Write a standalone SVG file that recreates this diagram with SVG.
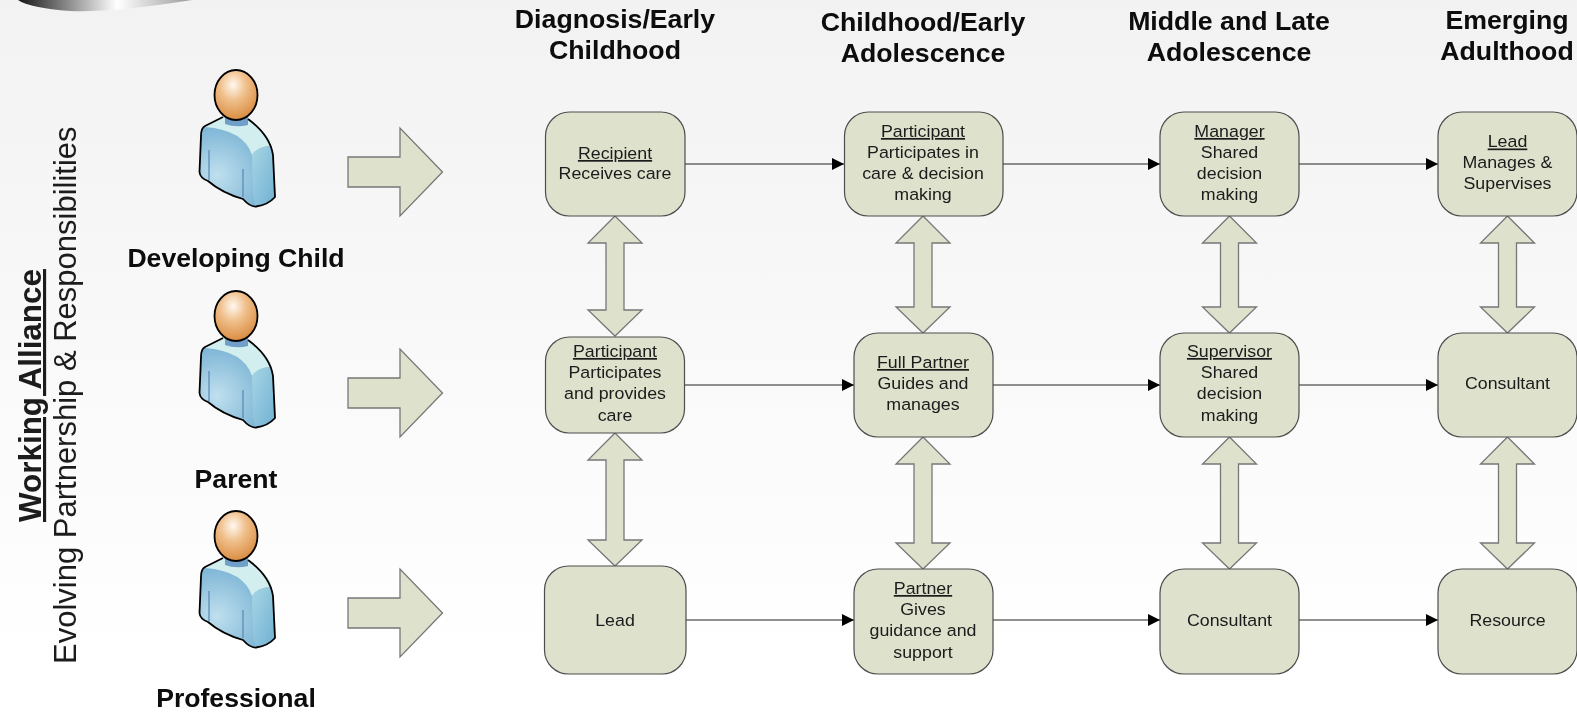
<svg xmlns="http://www.w3.org/2000/svg" width="1577" height="713" viewBox="0 0 1577 713">
<style>
text{font-family:"Liberation Sans",Arial,sans-serif;fill:#1a1a1a}
.n{font-size:17.200px;text-anchor:middle;transform-box:fill-box;transform-origin:center;transform:scaleX(1.035)}
.h{font-size:26px;font-weight:bold;text-anchor:middle;fill:#0a0a0a;transform-box:fill-box;transform-origin:center;transform:scaleX(1.027)}
.l{font-size:26px;font-weight:bold;text-anchor:middle;fill:#0a0a0a;transform-box:fill-box;transform-origin:center;transform:scaleX(1.023)}
.u{text-decoration:underline}
.box{fill:#dee2cd;stroke:#4d4d4d;stroke-width:1.2}
.blk{fill:#dee2cd;stroke:#777;stroke-width:1.3}
.c{stroke:#222;stroke-width:1.2;fill:none;marker-end:url(#ah)}
</style>
<defs>
<filter id="soft" x="0" y="0" width="1" height="1"><feGaussianBlur stdDeviation="0.4"/></filter>
<linearGradient id="bg" x1="0" y1="0" x2="0" y2="1"><stop offset="0" stop-color="#f2f2f2"/><stop offset="0.92" stop-color="#ffffff"/><stop offset="1" stop-color="#ffffff"/></linearGradient>
<linearGradient id="blob" x1="0" y1="0" x2="1" y2="0"><stop offset="0" stop-color="#161616"/><stop offset="0.57" stop-color="#ffffff"/><stop offset="1" stop-color="#9a9a9a"/></linearGradient>
<radialGradient id="head" cx="0.43" cy="0.3" r="0.72"><stop offset="0" stop-color="#fff8f0"/><stop offset="0.42" stop-color="#f0c08c"/><stop offset="1" stop-color="#d98a3e"/></radialGradient>
<radialGradient id="shirt" gradientUnits="userSpaceOnUse" cx="217" cy="175" r="48"><stop offset="0" stop-color="#bfe0ee"/><stop offset="1" stop-color="#7fb6d6"/></radialGradient>
<linearGradient id="sleeve" x1="0" y1="0" x2="1" y2="1"><stop offset="0" stop-color="#a8d6e4"/><stop offset="1" stop-color="#70b0d4"/></linearGradient>
<marker id="ah" markerUnits="userSpaceOnUse" markerWidth="12" markerHeight="12" refX="12" refY="6" orient="auto"><path d="M0 0L12 6L0 12Z" fill="#000"/></marker>
<g id="person">
<path d="M223 117L205 126Q201 128 201 136L199.5 172Q200 178 208 181Q222 193 243 199Q250 207 256 206.5Q268 205 275 197L273 155Q270 135 248 119Z" fill="url(#shirt)"/>
<path d="M205 127L223 117L248 119Q270 135 272 146Q258 146 252 155Q244 130 205 127Z" fill="#d2eeee"/>
<path d="M252 155Q258 146 272 146L275 197Q268 205 256 206.5L253 195Z" fill="url(#sleeve)"/>
<path d="M225 115L225 124Q236 128 248 125L248 115Z" fill="#6f9fc9"/>
<path d="M209 150L209 180M243 169L243 197" stroke="#5d8cb4" stroke-width="1.3" fill="none"/>
<path d="M223 117L205 126Q201 128 201 136L199.5 172Q200 178 208 181Q222 193 243 199Q250 207 256 206.5Q268 205 275 197L273 155Q270 135 248 119" fill="none" stroke="#000" stroke-width="1.8"/>
<ellipse cx="236" cy="95" rx="21.5" ry="25" fill="url(#head)" stroke="#000" stroke-width="1.8"/>
</g>
<path id="blockarrow" class="blk" d="M348 157L400 157L400 128L442.5 172L400 216L400 187L348 187Z"/>
</defs>
<g filter="url(#soft)">
<rect width="1577" height="713" fill="url(#bg)"/>
<path d="M18 0Q30 8 70 11Q110 13 192 0Z" fill="url(#blob)"/>
<text transform="translate(41,522) rotate(-90)" style="font-size:31.400px;font-weight:bold;text-decoration:underline">Working Alliance</text>
<text transform="translate(76,664) rotate(-90)" style="font-size:31px">Evolving Partnership &amp; Responsibilities</text>
<g id="headers">
<text class="h" x="615" y="28">Diagnosis/Early</text><text class="h" x="615" y="59">Childhood</text>
<text class="h" x="923" y="31">Childhood/Early</text><text class="h" x="923" y="62">Adolescence</text>
<text class="h" x="1229" y="30">Middle and Late</text><text class="h" x="1229" y="61">Adolescence</text>
<text class="h" x="1507" y="29">Emerging</text><text class="h" x="1507" y="60.5">Adulthood</text>
</g>
<g id="person-child"><use href="#person"/><text class="l" x="236" y="267">Developing Child</text></g>
<g id="person-parent"><use href="#person" y="221"/><text class="l" x="236" y="488">Parent</text></g>
<g id="person-professional"><use href="#person" y="441"/><text class="l" x="236" y="707">Professional</text></g>
<g id="block-arrows"><use href="#blockarrow"/><use href="#blockarrow" y="221"/><use href="#blockarrow" y="441"/></g>
<g id="connectors">
<path class="c" d="M685 164H844"/><path class="c" d="M1003 164H1160"/><path class="c" d="M1299 164H1438"/>
<path class="c" d="M684 385H854"/><path class="c" d="M993 385H1160"/><path class="c" d="M1299 385H1438"/>
<path class="c" d="M686 620H854"/><path class="c" d="M993 620H1160"/><path class="c" d="M1299 620H1438"/>
</g>
<g id="double-arrows">
<path class="blk" d="M615 216L642 243H624V310H642L615 336L588 310H606V243H588Z"/>
<path class="blk" d="M615 433L642 460H624V540H642L615 566L588 540H606V460H588Z"/>
<path class="blk" d="M923 216L950 243H932V307H950L923 333L896 307H914V243H896Z"/>
<path class="blk" d="M923 437L950 464H932V543H950L923 569L896 543H914V464H896Z"/>
<path class="blk" d="M1229.500 216L1256.500 243H1238.500V307H1256.500L1229.500 333L1202.500 307H1220.500V243H1202.500Z"/>
<path class="blk" d="M1229.500 437L1256.500 464H1238.500V543H1256.500L1229.500 569L1202.500 543H1220.500V464H1202.500Z"/>
<path class="blk" d="M1507.500 216L1534.500 243H1516.500V307H1534.500L1507.500 333L1480.500 307H1498.500V243H1480.500Z"/>
<path class="blk" d="M1507.500 437L1534.500 464H1516.500V543H1534.500L1507.500 569L1480.500 543H1498.500V464H1480.500Z"/>
</g>
<g id="n-recipient"><rect class="box" x="545.500" y="112" width="139.500" height="104" rx="24"/><text class="n u" x="615" y="159">Recipient</text><text class="n" x="615" y="179.500">Receives care</text></g>
<g id="n-participant1"><rect class="box" x="844.500" y="112" width="158.500" height="104" rx="24"/><text class="n u" x="923" y="137">Participant</text><text class="n" x="923" y="158">Participates in</text><text class="n" x="923" y="179">care &amp; decision</text><text class="n" x="923" y="200">making</text></g>
<g id="n-manager"><rect class="box" x="1160" y="112" width="139" height="104" rx="24"/><text class="n u" x="1229.500" y="137">Manager</text><text class="n" x="1229.500" y="158">Shared</text><text class="n" x="1229.500" y="179">decision</text><text class="n" x="1229.500" y="200">making</text></g>
<g id="n-lead1"><rect class="box" x="1438" y="112" width="139" height="104" rx="24"/><text class="n u" x="1507.500" y="147.500">Lead</text><text class="n" x="1507.500" y="168.500">Manages &amp;</text><text class="n" x="1507.500" y="189.500">Supervises</text></g>
<g id="n-participant2"><rect class="box" x="545.500" y="337" width="139" height="96" rx="24"/><text class="n u" x="615" y="357">Participant</text><text class="n" x="615" y="378">Participates</text><text class="n" x="615" y="399.500">and provides</text><text class="n" x="615" y="421">care</text></g>
<g id="n-fullpartner"><rect class="box" x="854" y="333" width="139" height="104" rx="24"/><text class="n u" x="923" y="368">Full Partner</text><text class="n" x="923" y="389">Guides and</text><text class="n" x="923" y="410">manages</text></g>
<g id="n-supervisor"><rect class="box" x="1160" y="333" width="139" height="104" rx="24"/><text class="n u" x="1229.500" y="357">Supervisor</text><text class="n" x="1229.500" y="378">Shared</text><text class="n" x="1229.500" y="399.500">decision</text><text class="n" x="1229.500" y="421">making</text></g>
<g id="n-consultant1"><rect class="box" x="1438" y="333" width="139" height="104" rx="24"/><text class="n" x="1507.500" y="389">Consultant</text></g>
<g id="n-lead2"><rect class="box" x="544.500" y="566" width="141.500" height="108" rx="24"/><text class="n" x="615" y="626">Lead</text></g>
<g id="n-partner"><rect class="box" x="854" y="569" width="139" height="105" rx="24"/><text class="n u" x="923" y="594">Partner</text><text class="n" x="923" y="615">Gives</text><text class="n" x="923" y="636.500">guidance and</text><text class="n" x="923" y="658">support</text></g>
<g id="n-consultant2"><rect class="box" x="1160" y="569" width="139" height="105" rx="24"/><text class="n" x="1229.500" y="626">Consultant</text></g>
<g id="n-resource"><rect class="box" x="1438" y="569" width="139" height="105" rx="24"/><text class="n" x="1507.500" y="626">Resource</text></g>
</g>
</svg>
